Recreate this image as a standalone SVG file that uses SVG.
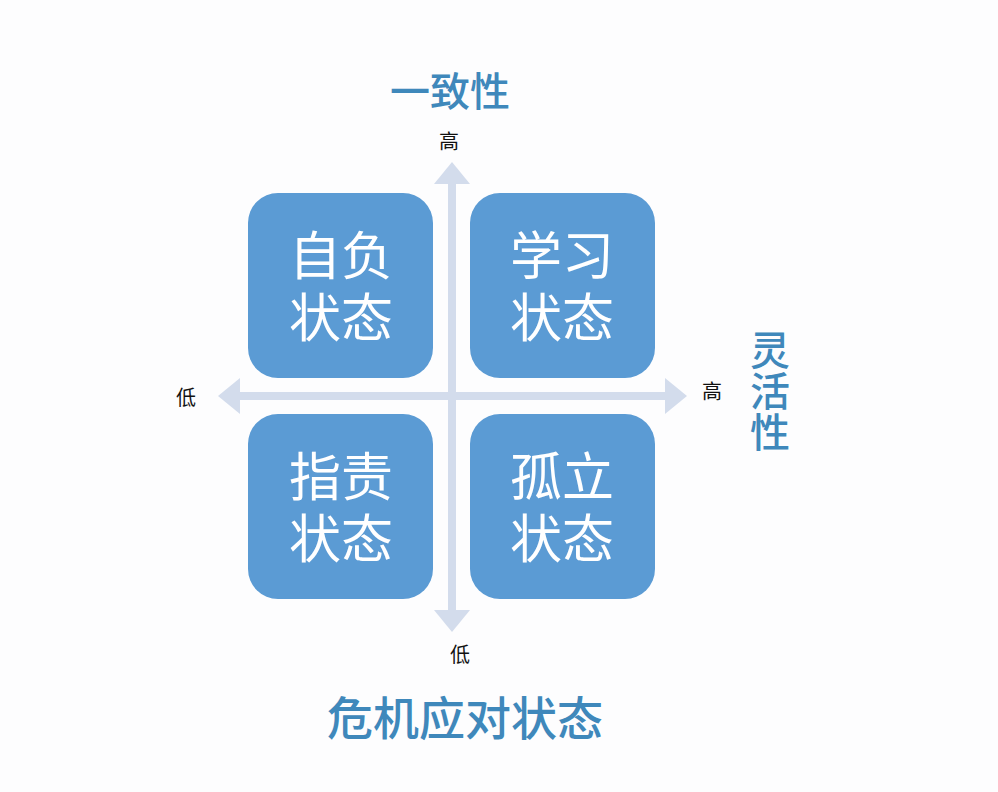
<svg xmlns="http://www.w3.org/2000/svg" width="998" height="792" viewBox="0 0 998 792">
<style>
.box{fill:#5b9bd4}
.bt{fill:#fff;font-family:"Noto Sans CJK SC",sans-serif;font-size:52px;text-anchor:middle}
.ax{stroke:#d3dcec;stroke-width:8;fill:none}
.ah{fill:#d3dcec}
.sm{fill:#111;font-family:"Noto Sans CJK SC",sans-serif;font-size:20px;text-anchor:middle}
.tt{fill:#3f88bb;font-family:"Noto Sans CJK SC",sans-serif;font-size:40px;font-weight:500;text-anchor:middle}
</style>
<rect width="998" height="792" fill="#fdfdfe"/>
<g id="connectors">
<line class="ax" x1="452" y1="180" x2="452" y2="615"/>
<polygon class="ah" points="452,162 434,184 470,184"/>
<polygon class="ah" points="452,632 434,610 470,610"/>
<line class="ax" x1="238" y1="396" x2="668" y2="396"/>
<polygon class="ah" points="687,396 665,378 665,414"/>
<polygon class="ah" points="218,396 240,378 240,414"/>
</g>
<g id="n1"><rect class="box" x="248" y="193" width="185" height="185" rx="30"/><text class="bt" x="341" y="275">自负</text><text class="bt" x="341" y="337">状态</text></g>
<g id="n2"><rect class="box" x="470" y="193" width="185" height="185" rx="30"/><text class="bt" x="562" y="275">学习</text><text class="bt" x="562" y="337">状态</text></g>
<g id="n3"><rect class="box" x="248" y="414" width="185" height="185" rx="30"/><text class="bt" x="341" y="496">指责</text><text class="bt" x="341" y="558">状态</text></g>
<g id="n4"><rect class="box" x="470" y="414" width="185" height="185" rx="30"/><text class="bt" x="562" y="496">孤立</text><text class="bt" x="562" y="558">状态</text></g>
<g id="labels">
<text class="tt" x="450" y="106">一致性</text>
<text class="sm" x="449" y="149">高</text>
<text class="sm" x="186" y="405">低</text>
<text class="sm" x="712" y="399">高</text>
<text class="sm" x="460" y="662">低</text>
<text class="tt" x="770" y="365">灵</text>
<text class="tt" x="770" y="406">活</text>
<text class="tt" x="770" y="447">性</text>
<text class="tt" x="465" y="735" style="font-size:46px">危机应对状态</text>
</g>
</svg>
